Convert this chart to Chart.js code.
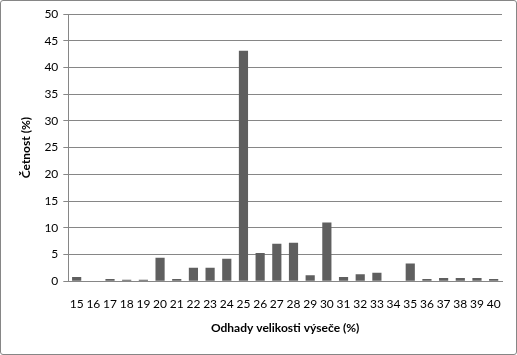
<!DOCTYPE html>
<html>
<head>
<meta charset="utf-8">
<script src="https://cdn.jsdelivr.net/npm/chart.js@4"></script>
<style>
    html, body { margin: 0; padding: 0; background: #fff; }
    #wrap {
        position: absolute; left: 0; top: 0;
        width: 515px; height: 353px;
        border: 1px solid #868686; border-radius: 3px;
    }
</style>
</head>
<body>
<div id="wrap"><canvas id="chart" width="515" height="353"></canvas></div>
<script>
// Categories (size estimate, %) and frequency values (%)
const categories = ['15', '16', '17', '18', '19', '20', '21', '22', '23', '24', '25', '26', '27',
    '28', '29', '30', '31', '32', '33', '34', '35', '36', '37', '38', '39', '40'];
const frequency = [0.8, 0, 0.4, 0.25, 0.25, 4.4, 0.4, 2.5, 2.5, 4.2, 43.1, 5.3, 7.0,
    7.2, 1.1, 11.0, 0.8, 1.3, 1.6, 0, 3.3, 0.4, 0.6, 0.6, 0.6, 0.4];
const yTicks = [0, 5, 10, 15, 20, 25, 30, 35, 40, 45, 50];

const FONT = 'Lato, "Open Sans", sans-serif';
const GRID = '#868686';

document.addEventListener('DOMContentLoaded', function() {
    const ctx = document.getElementById('chart');
    new Chart(ctx, {
        type: 'bar',
        data: {
            labels: categories,
            datasets: [{
                data: frequency,
                backgroundColor: '#5f5f5f',
                borderWidth: 0,
                categoryPercentage: 1,
                barPercentage: 0.55
            }]
        },
        options: {
            responsive: false,
            animation: false,
            plugins: {
                legend: { display: false },
                tooltip: { enabled: false }
            },
            layout: { padding: { top: 13, right: 14, bottom: 19, left: 18 } },
            scales: {
                x: {
                    grid: { display: false },
                    border: { display: true, color: GRID, width: 1 },
                    ticks: {
                        color: '#000',
                        font: { family: FONT, size: 12 },
                        maxRotation: 0,
                        autoSkip: false,
                        padding: 8
                    },
                    title: {
                        display: true,
                        text: 'Odhady velikosti výseče (%)',
                        color: '#000',
                        font: { family: FONT, size: 12, weight: 'bold' },
                        padding: { top: 1, bottom: 0 }
                    }
                },
                y: {
                    min: yTicks[0],
                    max: yTicks[yTicks.length - 1],
                    afterBuildTicks: function(axis) {
                        axis.ticks = yTicks.map(v => ({ value: v }));
                    },
                    grid: {
                        color: GRID,
                        lineWidth: 1,
                        drawTicks: true,
                        tickLength: 5
                    },
                    border: { display: true, color: GRID, width: 1 },
                    ticks: {
                        color: '#000',
                        font: { family: FONT, size: 12 },
                        padding: 5
                    },
                    title: {
                        display: true,
                        text: 'Četnost (%)',
                        color: '#000',
                        font: { family: FONT, size: 12, weight: 'bold' },
                        padding: { top: 0, bottom: 6 }
                    }
                }
            }
        }
    });
});
</script>
</body>
</html>
